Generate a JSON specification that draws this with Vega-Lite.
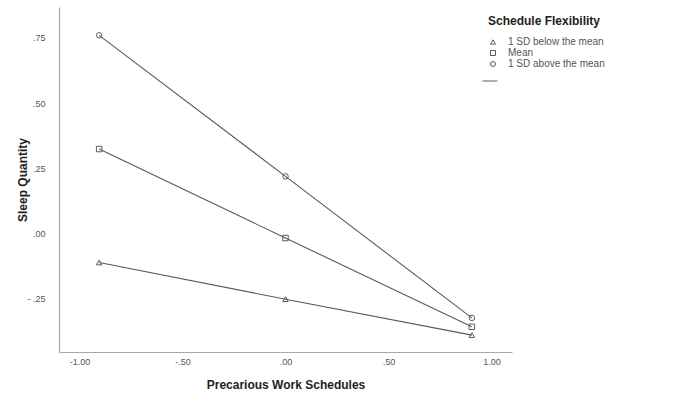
{
  "$schema": "https://vega.github.io/schema/vega-lite/v6.json",
  "width": 453,
  "height": 345,
  "autosize": {"type": "none"},
  "padding": {"left": 59, "top": 7, "right": 173, "bottom": 53},
  "background": "white",
  "config": {
    "view": {"stroke": null},
    "font": "Liberation Sans",
    "axis": {
      "grid": false,
      "ticks": false,
      "domainColor": "#a8a8a8",
      "domainWidth": 1.2,
      "labelFont": "Liberation Sans Narrow, Liberation Sans",
      "labelFontSize": 9,
      "labelColor": "#555555",
      "titleFont": "Liberation Sans",
      "titleFontSize": 12,
      "titleFontWeight": "bold",
      "titleColor": "#222222"
    },
    "legend": {
      "titleFont": "Liberation Sans",
      "titleFontSize": 12,
      "titleFontWeight": "bold",
      "titleColor": "#222222",
      "labelFont": "Liberation Sans",
      "labelFontSize": 10,
      "labelColor": "#555555"
    }
  },
  "data": {
    "values": [
      {"group": "1 SD below the mean", "x": -0.905, "y": -0.113},
      {"group": "1 SD below the mean", "x": 0, "y": -0.254},
      {"group": "1 SD below the mean", "x": 0.905, "y": -0.392},
      {"group": "Mean", "x": -0.905, "y": 0.323},
      {"group": "Mean", "x": 0, "y": -0.019},
      {"group": "Mean", "x": 0.905, "y": -0.36},
      {"group": "1 SD above the mean", "x": -0.905, "y": 0.76},
      {"group": "1 SD above the mean", "x": 0, "y": 0.218},
      {"group": "1 SD above the mean", "x": 0.905, "y": -0.326}
    ]
  },
  "encoding": {
    "x": {
      "field": "x",
      "type": "quantitative",
      "title": "Precarious Work Schedules",
      "scale": {"domain": [-1.1, 1.1], "nice": false, "zero": false},
      "axis": {
        "values": [-1, -0.5, 0, 0.5, 1],
        "labelExpr": "(datum.value < 0 ? '-' : '') + replace(format(abs(datum.value), '.2f'), /^0\\./, '.')",
        "labelPadding": 5,
        "titlePadding": 13
      }
    },
    "y": {
      "field": "y",
      "type": "quantitative",
      "title": "Sleep Quantity",
      "scale": {"domain": [-0.457, 0.869], "nice": false, "zero": false},
      "axis": {
        "values": [-0.25, 0, 0.25, 0.5, 0.75],
        "labelExpr": "(datum.value < 0 ? '- ' : '') + replace(format(abs(datum.value), '.2f'), /^0\\./, '.')",
        "labelPadding": 14,
        "titlePadding": -3
      }
    }
  },
  "layer": [
    {
      "mark": {"type": "line", "strokeWidth": 1.1},
      "encoding": {
        "detail": {"field": "group"},
        "color": {
          "datum": " ",
          "scale": {"range": ["#5a5a5a"]},
          "legend": {
            "title": null,
            "orient": "none",
            "legendX": 423,
            "legendY": 66,
            "symbolType": "stroke",
            "symbolSize": 220,
            "symbolStrokeWidth": 1
          }
        }
      }
    },
    {
      "mark": {"type": "point", "filled": false, "size": 30, "color": "#5a5a5a", "strokeWidth": 1, "opacity": 1},
      "encoding": {
        "shape": {
          "field": "group",
          "type": "nominal",
          "scale": {
            "domain": ["1 SD below the mean", "Mean", "1 SD above the mean"],
            "range": ["triangle-up", "square", "circle"]
          },
          "legend": {
            "title": "Schedule Flexibility",
            "orient": "none",
            "legendX": 429,
            "legendY": 9,
            "titlePadding": 9,
            "rowPadding": 1,
            "symbolSize": 25,
            "symbolStrokeColor": "#5a5a5a",
            "symbolFillColor": "transparent",
            "symbolStrokeWidth": 1,
            "labelOffset": 10
          }
        }
      }
    }
  ]
}
